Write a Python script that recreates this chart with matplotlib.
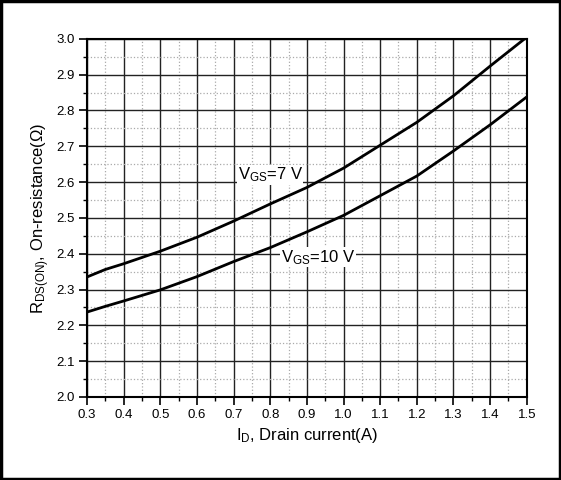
import numpy as np
import matplotlib.pyplot as plt
from matplotlib.patches import Rectangle
from matplotlib.ticker import MultipleLocator

plt.rcParams['font.family'] = ['Liberation Sans', 'DejaVu Sans']
plt.rcParams['mathtext.default'] = 'regular'

# drain current (A) and on-resistance (ohm) for the two gate voltages
drain_current = [0.3, 0.35, 0.4, 0.5, 0.6, 0.7, 0.8, 0.9, 1.0, 1.1, 1.2, 1.3, 1.4, 1.5]
rds_vgs7 = [2.335, 2.356, 2.372, 2.407, 2.446, 2.491, 2.539, 2.585, 2.639,
            2.703, 2.767, 2.841, 2.924, 3.005]
rds_vgs10 = [2.237, 2.253, 2.268, 2.299, 2.336, 2.378, 2.417, 2.461, 2.507,
             2.562, 2.617, 2.687, 2.760, 2.838]

label_vgs7 = 'V$_{GS}$=7 V'
label_vgs10 = 'V$_{GS}$=10 V'

fig = plt.figure(figsize=(5.61, 4.8), dpi=100)
ax = fig.add_axes([0.155, 0.173, 0.784, 0.746])

ax.plot(drain_current, rds_vgs7, color='black', lw=2)
ax.plot(drain_current, rds_vgs10, color='black', lw=2)

ax.set_xlim(0.3, 1.5)
ax.set_ylim(2.0, 3.0)
ax.xaxis.set_major_locator(MultipleLocator(0.1))
ax.xaxis.set_minor_locator(MultipleLocator(0.05))
ax.yaxis.set_major_locator(MultipleLocator(0.1))
ax.yaxis.set_minor_locator(MultipleLocator(0.05))
ax.xaxis.set_major_formatter(lambda v, p: f'{v:.1f}')
ax.yaxis.set_major_formatter(lambda v, p: f'{v:.1f}')

ax.grid(which='major', color='#222222', lw=1.0, ls='-')
ax.grid(which='minor', color='#aaaaaa', lw=0.9, ls=':')
ax.set_axisbelow(True)

ax.tick_params(which='major', direction='out', length=6, width=1.2, labelsize=9.5,
               top=False, right=False, pad=3)
ax.tick_params(which='minor', direction='out', length=3, width=1.0,
               top=False, right=False)
for s in ax.spines.values():
    s.set_linewidth(1.5)

ax.set_xlabel('I$_{D}$, Drain current(A)', fontsize=12, labelpad=3)
ax.set_ylabel('R$_{DS(ON)}$, On-resistance($\\Omega$)', fontsize=12, labelpad=3)

box = dict(facecolor='white', edgecolor='none', pad=0.5)
ax.text(0.80, 2.62, label_vgs7, fontsize=12, ha='center', va='center', bbox=box)
ax.text(0.93, 2.39, label_vgs10, fontsize=12, ha='center', va='center', bbox=box)

# frame around the whole figure
fig.patches.append(Rectangle((0.002, 0.003), 0.996, 0.994, transform=fig.transFigure,
                             fill=False, edgecolor='black', lw=2.5))

fig.savefig('out.png', dpi=100)
